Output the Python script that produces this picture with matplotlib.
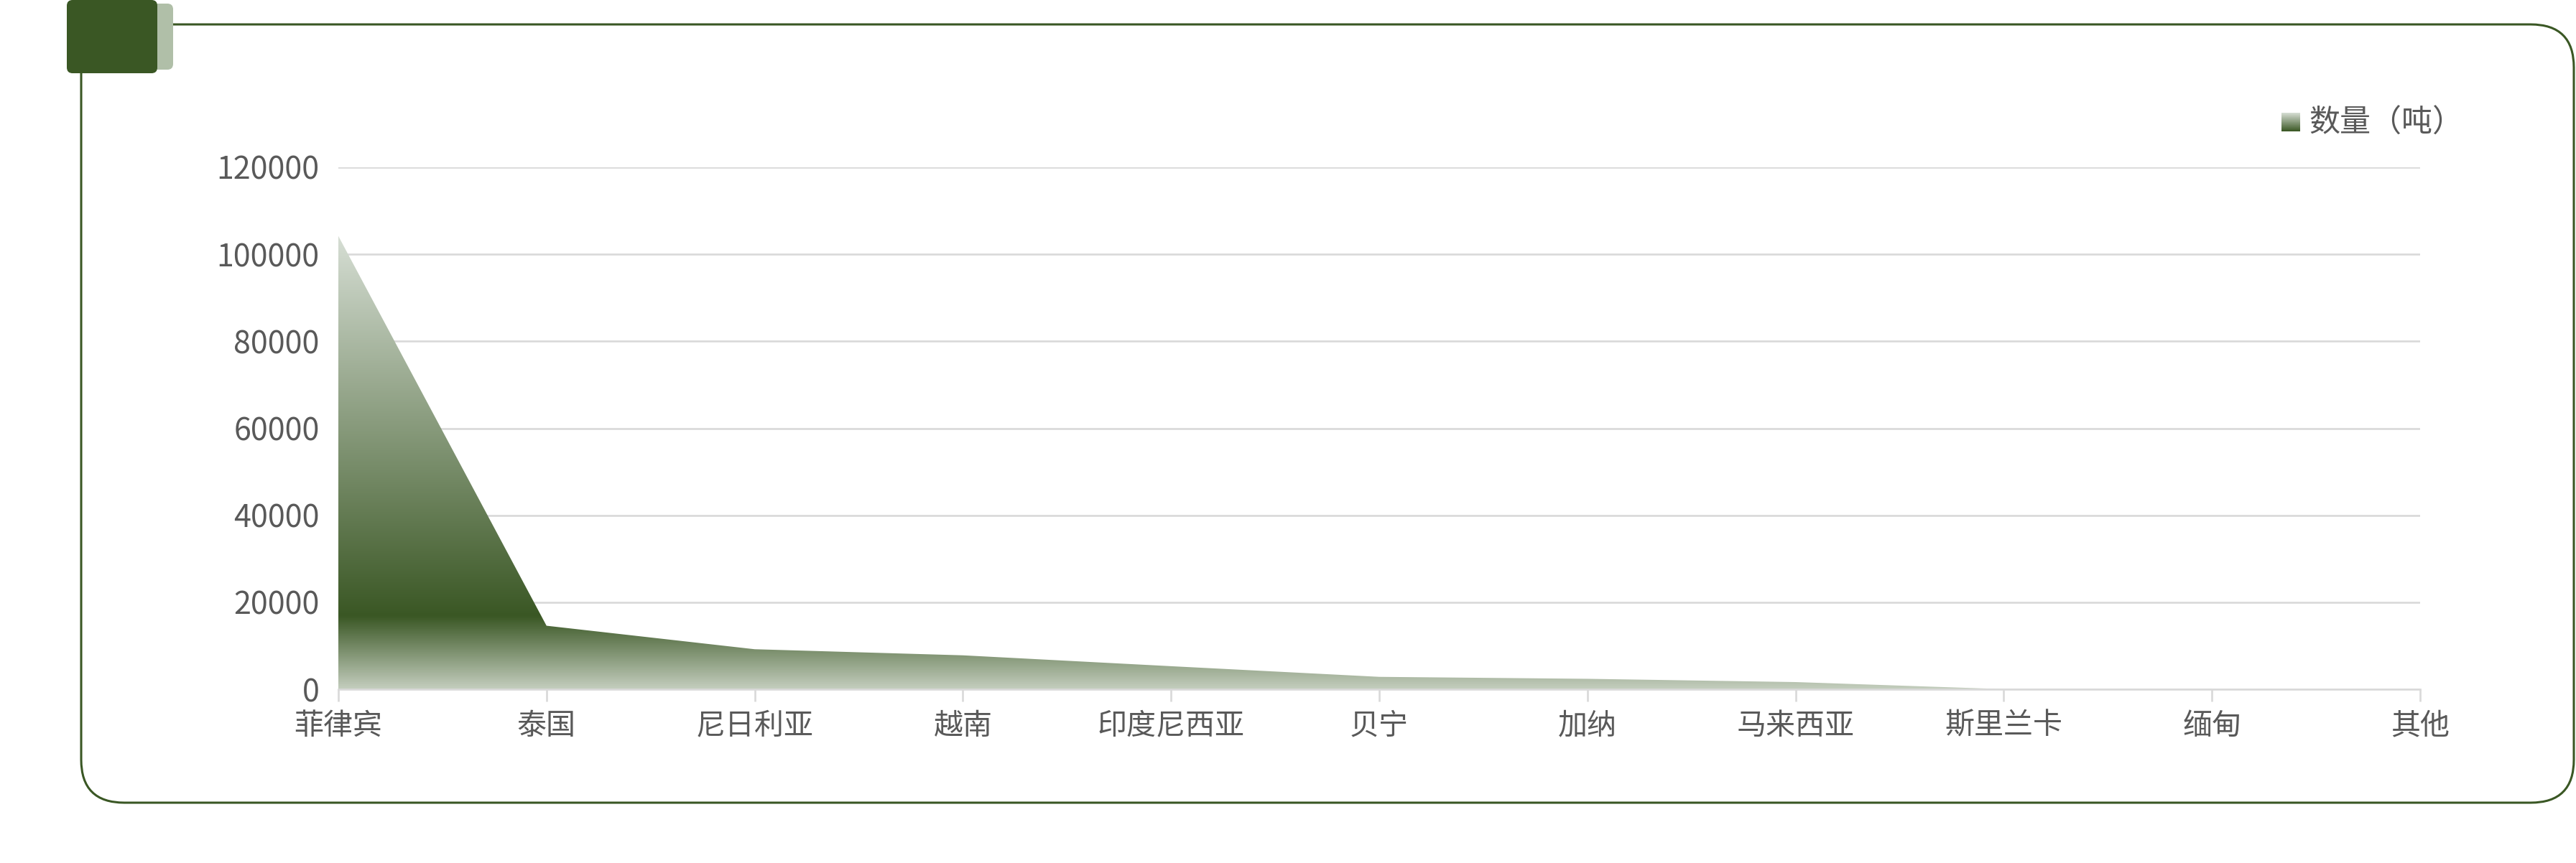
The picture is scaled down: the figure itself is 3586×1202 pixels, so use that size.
#!/usr/bin/env python3

import matplotlib

matplotlib.use("Agg")

import matplotlib.pyplot as plt
import numpy as np
from matplotlib.colors import LinearSegmentedColormap
from matplotlib.patches import FancyBboxPatch


plt.rcParams["font.family"] = ["Noto Sans CJK SC", "DejaVu Sans"]

COUNTRIES = [
    "菲律宾",
    "泰国",
    "尼日利亚",
    "越南",
    "印度尼西亚",
    "贝宁",
    "加纳",
    "马来西亚",
    "斯里兰卡",
    "缅甸",
    "其他",
]

TONNES = [104200, 14600, 9200, 7800, 5300, 2850, 2400, 1650, 30, 0, 0]

Y_TICKS = [0, 20000, 40000, 60000, 80000, 100000, 120000]

SERIES_LABEL = "数量（吨）"

DARK_GREEN = "#3a5724"
LIGHT_GREEN = "#b0bfa8"
TEXT_GRAY = "#595959"
GRID_GRAY = "#d9d9d9"

W, H = 3586, 1202


def gradient_cmap():
    # light at the bottom, dark at ~16 % of the peak, pale at the top
    return LinearSegmentedColormap.from_list(
        "area",
        [(0.0, "#c3cdbd"), (0.16, DARK_GREEN), (1.0, "#d6ded4")],
    )


def draw_frame(fig):
    bg = fig.add_axes([0, 0, 1, 1], zorder=0)
    bg.set_xlim(0, W)
    bg.set_ylim(H, 0)
    bg.axis("off")

    bg.add_patch(
        FancyBboxPatch(
            (113, 34), 3583 - 113, 1118 - 34,
            boxstyle="round,pad=0,rounding_size=60",
            facecolor="white",
            edgecolor=DARK_GREEN,
            linewidth=2.2,
        )
    )
    bg.add_patch(
        FancyBboxPatch(
            (95, 5), 241 - 95, 97 - 5,
            boxstyle="round,pad=0,rounding_size=8",
            facecolor=LIGHT_GREEN,
            edgecolor="none",
        )
    )
    bg.add_patch(
        FancyBboxPatch(
            (93, 0), 219 - 93, 102,
            boxstyle="round,pad=0,rounding_size=8",
            facecolor=DARK_GREEN,
            edgecolor="none",
        )
    )

    # legend: gradient square + label
    swatch = np.linspace(1, 0.16, 64).reshape(-1, 1)
    bg.imshow(
        swatch,
        cmap=gradient_cmap(),
        vmin=0,
        vmax=1,
        extent=(3176, 3202, 183, 157),
        origin="upper",
        aspect="auto",
        zorder=3,
    )
    bg.set_xlim(0, W)
    bg.set_ylim(H, 0)
    bg.text(
        3214, 172, SERIES_LABEL,
        fontsize=31, color=TEXT_GRAY,
        va="center", ha="left",
    )
    return bg


def draw_chart(fig):
    ax = fig.add_axes(
        [471 / W, 1 - 960 / H, (3369 - 471) / W, (960 - 233) / H],
        zorder=1,
    )
    ax.set_facecolor("none")

    x = np.arange(len(COUNTRIES))
    values = np.array(TONNES, dtype=float)
    peak = values.max()

    poly = ax.fill_between(x, 0, values, facecolor="none", edgecolor="none")

    grad = np.linspace(0, 1, 512).reshape(-1, 1)
    img = ax.imshow(
        grad,
        cmap=gradient_cmap(),
        vmin=0,
        vmax=1,
        extent=(x[0], x[-1], 0, peak),
        origin="lower",
        aspect="auto",
        interpolation="bilinear",
        zorder=2,
    )
    img.set_clip_path(poly.get_paths()[0], transform=ax.transData)

    ax.set_xlim(x[0], x[-1])
    ax.set_ylim(0, 120000)
    ax.set_yticks(Y_TICKS)
    ax.set_yticklabels([str(v) for v in Y_TICKS])
    ax.set_xticks(x)
    ax.set_xticklabels(COUNTRIES)

    ax.grid(axis="y", color=GRID_GRAY, linewidth=1.9, zorder=0)
    ax.set_axisbelow(True)

    for side in ["top", "right", "left"]:
        ax.spines[side].set_visible(False)
    ax.spines["bottom"].set_color(GRID_GRAY)
    ax.spines["bottom"].set_linewidth(1.9)
    ax.spines["bottom"].set_zorder(3)

    ax.tick_params(axis="y", length=0, pad=19, labelsize=31, labelcolor=TEXT_GRAY)
    ax.tick_params(
        axis="x", length=12, width=1.9, color=GRID_GRAY,
        pad=10, labelsize=29.5, labelcolor=TEXT_GRAY,
    )
    return ax


def main():
    fig = plt.figure(figsize=(W / 100, H / 100), dpi=100)
    fig.patch.set_facecolor("white")
    draw_frame(fig)
    draw_chart(fig)
    fig.savefig("out.png", dpi=100, facecolor="white")
    plt.close(fig)


if __name__ == "__main__":
    main()
